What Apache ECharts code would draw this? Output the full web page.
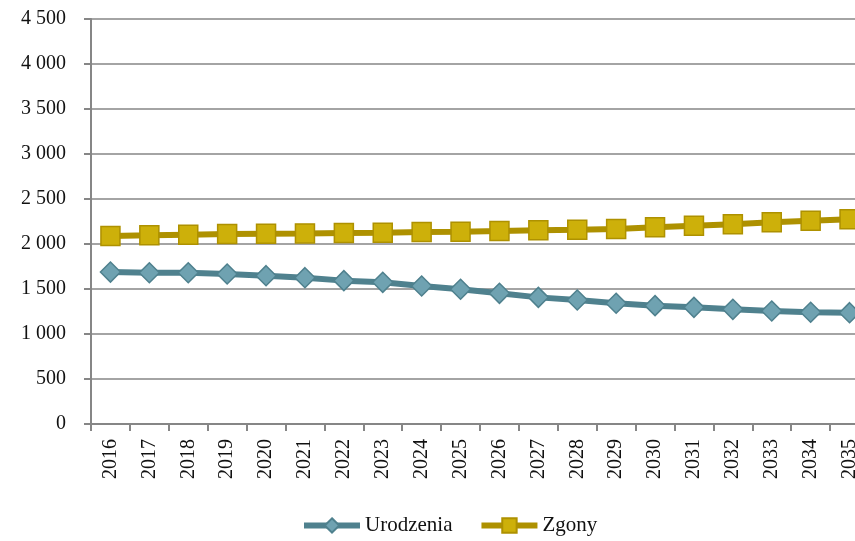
<!DOCTYPE html>
<html><head><meta charset="utf-8">
<script src="https://cdn.jsdelivr.net/npm/echarts@6/dist/echarts.min.js"></script>
<style>html,body{margin:0;padding:0;background:#fff;overflow:hidden;width:855px;height:541px}#c{width:870px;height:541px}</style>
</head><body><div id="c"></div>
<script>
var years = ['2016','2017','2018','2019','2020','2021','2022','2023','2024','2025','2026','2027','2028','2029','2030','2031','2032','2033','2034','2035'];
var urodzenia = [1688,1681,1680,1667,1648,1626,1593,1574,1533,1497,1452,1407,1378,1341,1315,1296,1274,1256,1241,1237];
var zgony = [2089,2096,2104,2111,2115,2118,2122,2126,2133,2137,2144,2152,2159,2167,2185,2204,2219,2241,2259,2274];
var yTicks = {min:0, max:4500, interval:500};

var font = '"Liberation Serif", "DejaVu Serif", serif';
var chart = echarts.init(document.getElementById('c'));
chart.setOption({
  animation:false,
  textStyle:{fontFamily:font},
  grid:{left:91, top:19, width:778, bottom:117, containLabel:false},
  legend:{
    bottom:0, left:296, itemWidth:56, itemHeight:18, itemGap:26,
    textStyle:{fontFamily:font, fontSize:21, color:'#111'},
    lineStyle:{width:6},
    data:['Urodzenia','Zgony']
  },
  xAxis:{
    type:'category', data:years, boundaryGap:true,
    axisLine:{lineStyle:{color:'#868686', width:2}},
    axisTick:{show:true, length:7, lineStyle:{color:'#868686', width:2}},
    axisLabel:{rotate:90, fontSize:20, color:'#111', fontFamily:font, margin:15, interval:0}
  },
  yAxis:{
    type:'value', min:yTicks.min, max:yTicks.max, interval:yTicks.interval,
    axisLine:{show:true, lineStyle:{color:'#868686', width:2}},
    axisTick:{show:true, length:7, lineStyle:{color:'#868686', width:2}},
    splitLine:{lineStyle:{color:'#868686', width:1.5}},
    axisLabel:{fontSize:20, color:'#111', fontFamily:font, margin:25,
      formatter:function(v){return String(v).replace(/\B(?=(\d{3})+(?!\d))/g,' ');}}
  },
  series:[
    {name:'Urodzenia', type:'line', data:urodzenia, symbol:'diamond', symbolSize:20,
     lineStyle:{color:'#4F818E', width:6},
     itemStyle:{color:'#6FA2B1', borderColor:'#4F818E', borderWidth:1.5}},
    {name:'Zgony', type:'line', data:zgony, symbol:'rect', symbolSize:19,
     lineStyle:{color:'#AE9100', width:6},
     itemStyle:{color:'#CDB00A', borderColor:'#AE9100', borderWidth:1.5}}
  ]
});
</script></body></html>
